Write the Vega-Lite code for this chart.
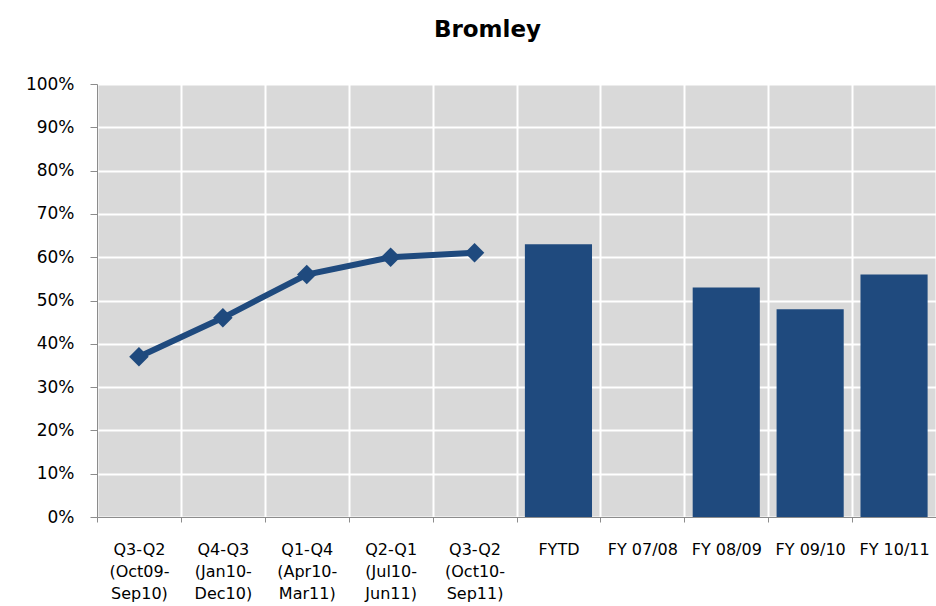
{
  "$schema": "https://vega.github.io/schema/vega-lite/v6.json",
  "autosize": "none",
  "width": 839,
  "height": 433,
  "padding": {"left": 97, "top": 84, "right": 0, "bottom": 89},
  "background": "white",
  "title": {
    "text": "Bromley",
    "font": "DejaVu Sans",
    "fontSize": 23,
    "fontWeight": "bold",
    "color": "#000000",
    "anchor": "middle",
    "frame": "group",
    "dx": -29,
    "baseline": "alphabetic",
    "offset": 15
  },
  "config": {
    "view": {"fill": "#d9d9d9", "stroke": null},
    "axis": {
      "labelFont": "DejaVu Sans",
      "labelColor": "#000000",
      "domainColor": "#8c8c8c",
      "tickColor": "#8c8c8c",
      "gridColor": "#ffffff",
      "gridWidth": 2,
      "gridOpacity": 1
    }
  },
  "data": {
    "values": [
      {"cat": "Q3-Q2 (Oct09- Sep10)", "line": 0.37, "bar": null},
      {"cat": "Q4-Q3 (Jan10- Dec10)", "line": 0.46, "bar": null},
      {"cat": "Q1-Q4 (Apr10- Mar11)", "line": 0.56, "bar": null},
      {"cat": "Q2-Q1 (Jul10- Jun11)", "line": 0.60, "bar": null},
      {"cat": "Q3-Q2 (Oct10- Sep11)", "line": 0.61, "bar": null},
      {"cat": "FYTD", "line": null, "bar": 0.63},
      {"cat": "FY 07/08", "line": null, "bar": null},
      {"cat": "FY 08/09", "line": null, "bar": 0.53},
      {"cat": "FY 09/10", "line": null, "bar": 0.48},
      {"cat": "FY 10/11", "line": null, "bar": 0.56}
    ]
  },
  "encoding": {
    "x": {
      "field": "cat",
      "type": "nominal",
      "sort": null,
      "scale": {
        "domain": ["Q3-Q2 (Oct09- Sep10)", "Q4-Q3 (Jan10- Dec10)", "Q1-Q4 (Apr10- Mar11)", "Q2-Q1 (Jul10- Jun11)", "Q3-Q2 (Oct10- Sep11)", "FYTD", "FY 07/08", "FY 08/09", "FY 09/10", "FY 10/11"],
        "paddingInner": 0,
        "paddingOuter": 0
      },
      "axis": {
        "title": null,
        "labelAngle": 0,
        "tickBand": "extent",
        "grid": true,
        "tickSize": 5,
        "labelPadding": 19,
        "labelFontSize": 16,
        "labelLineHeight": 22,
        "labelBaseline": "top",
        "labelExpr": "indexof(datum.label, '(') > 0 ? split(datum.label, ' ') : datum.label"
      }
    }
  },
  "layer": [
    {
      "mark": {"type": "bar", "width": {"band": 0.8}, "color": "#1f4a7e"},
      "encoding": {
        "y": {
          "field": "bar",
          "type": "quantitative",
          "scale": {"domain": [0, 1]},
          "axis": {
            "title": null,
            "format": ".0%",
            "values": [0, 0.1, 0.2, 0.3, 0.4, 0.5, 0.6, 0.7, 0.8, 0.9, 1],
            "grid": true,
            "tickSize": 7,
            "labelPadding": 16,
            "labelFontSize": 17
          }
        }
      }
    },
    {
      "mark": {
        "type": "line",
        "color": "#1f4a7e",
        "strokeWidth": 6,
        "point": {"shape": "diamond", "size": 380, "filled": true, "color": "#1f4a7e"}
      },
      "encoding": {
        "y": {"field": "line", "type": "quantitative"}
      }
    }
  ]
}
